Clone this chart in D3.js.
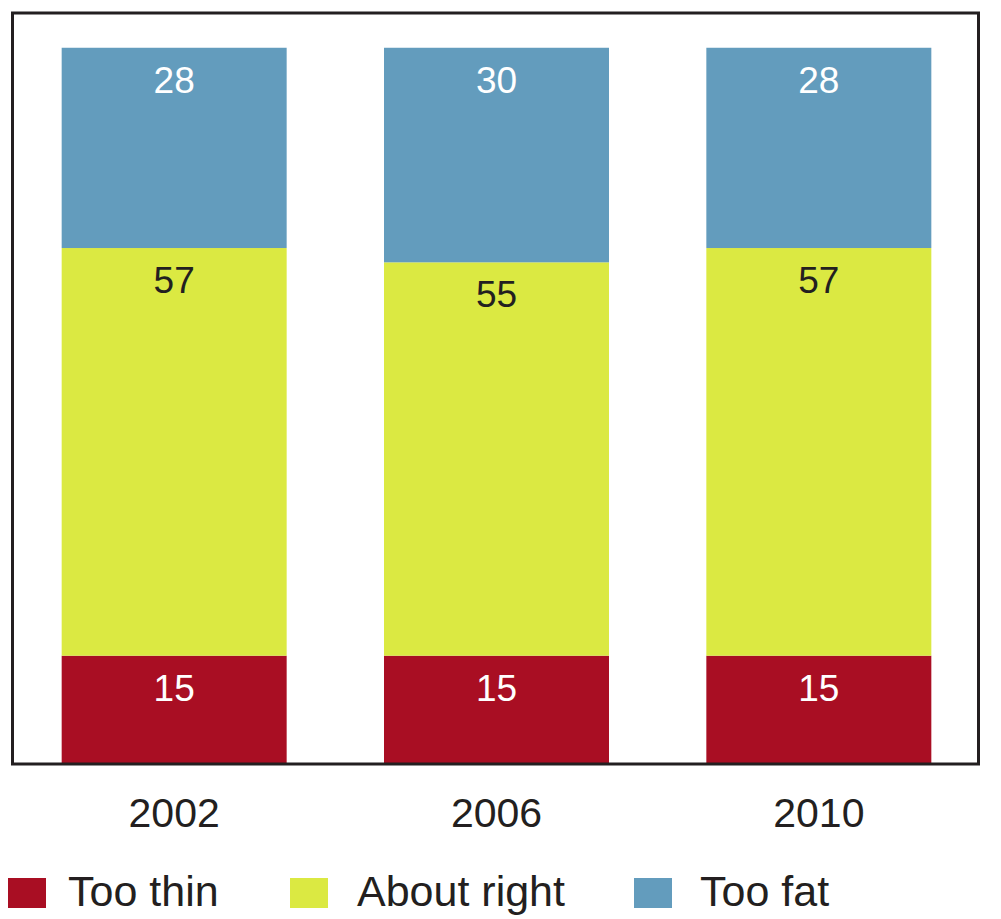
<!DOCTYPE html>
<html>
<head>
<meta charset="utf-8">
<script src="https://cdn.jsdelivr.net/npm/d3@7"></script>
<style>
  html, body { margin: 0; padding: 0; background: #fff; }
  svg { display: block; font-family: "Liberation Sans", Arial, Helvetica, sans-serif; }
</style>
</head>
<body>
<svg id="chart" width="1001" height="919"></svg>
<script>
const years = ["2002", "2006", "2010"];
const seriesNames = ["Too thin", "About right", "Too fat"];
const tooThin = [15, 15, 15];
const aboutRight = [57, 55, 57];
const tooFat = [28, 30, 28];
const colors = ["#a90e23", "#dbe942", "#639cbd"];
const labelColors = ["#ffffff", "#231f20", "#ffffff"];

const rows = years.map((y, i) => ({ year: y, "Too thin": tooThin[i], "About right": aboutRight[i], "Too fat": tooFat[i] }));
const stacked = d3.stack().keys(seriesNames)(rows);

const svg = d3.select("#chart");
const x = d3.scaleBand().domain(years).range([13, 980]).paddingInner(0.302).paddingOuter(0.151);
const y = d3.scaleLinear().domain([0, 105]).range([763, 12]);

// bars
const layers = svg.append("g").selectAll("g").data(stacked).join("g")
  .attr("fill", (d, i) => colors[i]);
layers.selectAll("rect").data(d => d).join("rect")
  .attr("x", d => x(d.data.year))
  .attr("width", x.bandwidth())
  .attr("y", d => y(d[1]))
  .attr("height", d => y(d[0]) - y(d[1]));

// value labels
stacked.forEach((layer, li) => {
  svg.append("g").selectAll("text").data(layer).join("text")
    .attr("x", d => x(d.data.year) + x.bandwidth() / 2)
    .attr("y", d => y(d[1]) + 45)
    .attr("text-anchor", "middle")
    .attr("font-size", 37)
    .attr("fill", labelColors[li])
    .text(d => d[1] - d[0]);
});

// frame
svg.append("rect")
  .attr("x", 12.5).attr("y", 13)
  .attr("width", 966).attr("height", 751)
  .attr("fill", "none")
  .attr("stroke", "#231f20")
  .attr("stroke-width", 3);

// x axis labels
const xAxis = d3.axisBottom(x).tickSize(0).tickPadding(0);
const gx = svg.append("g").attr("transform", "translate(0,764)").call(xAxis);
gx.select(".domain").remove();
gx.selectAll("text")
  .attr("font-size", 41)
  .attr("font-family", "Liberation Sans, Arial, sans-serif")
  .attr("fill", "#231f20")
  .attr("dy", null)
  .attr("y", 63);

// legend
const legendX = [8, 290, 634];
const textX = [68, 357, 700];
const lg = svg.append("g");
seriesNames.forEach((name, i) => {
  lg.append("rect")
    .attr("x", legendX[i]).attr("y", 878)
    .attr("width", 38).attr("height", 30)
    .attr("fill", colors[i]);
  lg.append("text")
    .attr("x", textX[i]).attr("y", 906)
    .attr("font-size", 43)
    .attr("fill", "#231f20")
    .text(name);
});
</script>
</body>
</html>
